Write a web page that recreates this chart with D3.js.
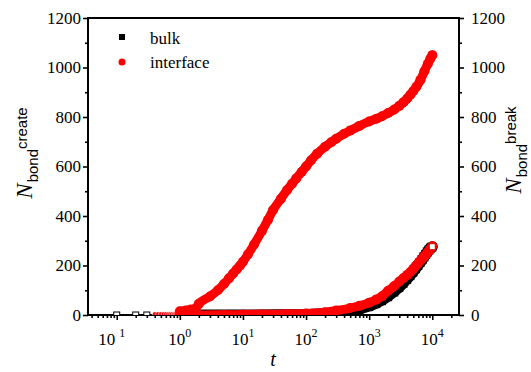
<!DOCTYPE html>
<html>
<head>
<meta charset="utf-8">
<script src="https://cdn.jsdelivr.net/npm/d3@7"></script>
<style>
  body { margin: 0; background: #fff; }
  svg { display: block; }
</style>
</head>
<body>
<div id="chart"></div>
<script>
// values
var xTickExp = [-1, 0, 1, 2, 3, 4];
var yTicks = [0, 200, 400, 600, 800, 1000, 1200];

// bulk: sparse open squares at early times, then the dense band
var bulkEarlyT = [0.1, 0.2, 0.3];
var bulkEarlyN = [0, 0, 0];
var bulkT = [1, 10, 100, 200, 300, 500, 700, 1000, 1300, 1600, 2000, 2500, 3000, 3500, 4000,
    4500, 5000, 5500, 6000, 6500, 7000, 7500, 8000, 8500, 9000, 9500, 10000];
var bulkN = [0, 0, 2, 5, 9, 17, 24, 36, 48, 60, 76, 95, 113, 130, 146,
    161, 175, 189, 202, 214, 226, 237, 247, 257, 265, 272, 276];

// interface, small points lying on zero before t = 1
var ifaceEarlyT = [0.4, 0.45, 0.5, 0.55, 0.6, 0.65, 0.7, 0.75, 0.8, 0.85, 0.9, 0.95];
var ifaceEarlyN = [0, 0, 0, 0, 0, 0, 0, 0, 0, 0, 0, 0];

// interface, bonds created (left axis)
var createT = [1, 1.25, 1.5, 1.75, 2, 3, 4, 5, 6, 7, 8, 9, 10, 12, 15, 20, 25, 30, 40, 50, 60, 70,
    85, 100, 120, 150, 200, 250, 300, 400, 500, 700, 1000, 1300, 1600, 2000, 2500, 3000, 3500,
    4000, 4500, 5000, 5600, 6500, 7500, 8500, 9300, 10000];
var createN = [15, 18, 22, 25, 45, 75, 100, 125, 148, 168, 185, 200, 215, 245, 285, 340, 385, 424, 470, 505, 530, 552,
    578, 600, 625, 652, 680, 698, 712, 732, 745, 764, 782, 793, 803, 816, 830, 845, 860,
    875, 890, 905, 922, 950, 985, 1015, 1035, 1050];

// interface, bonds broken (right axis)
var breakT = [1, 2, 5, 10, 20, 50, 100, 200, 300, 500, 700, 1000, 1300, 1600, 2000, 2500, 3000, 3500,
    4000, 4500, 5000, 5500, 6000, 6500, 7000, 7500, 8000, 8500, 9000, 9500, 10000];
var breakN = [0, 0, 1, 2, 3, 4, 6, 11, 18, 28, 37, 50, 63, 76, 98, 117, 135, 149,
    162, 174, 187, 199, 210, 220, 229, 238, 246, 254, 262, 270, 278];

var width = 531, height = 372,
    plot = { left: 88, right: 459, top: 18, bottom: 315 },
    red = '#ff0000',
    serif = "'Liberation Serif', 'DejaVu Serif', serif",
    sans = "'Liberation Sans', 'DejaVu Sans', sans-serif";

var svg = d3.select('#chart').append('svg')
    .attr('width', width)
    .attr('height', height);

var x = d3.scaleLog()
    .domain([Math.pow(10, -1.455), Math.pow(10, 4.423)])
    .range([plot.left, plot.right]);
var y = d3.scaleLinear()
    .domain([0, 1200])
    .range([plot.bottom, plot.top]);

function zip(ts, ns) {
    return ts.map(function (t, i) { return [t, ns[i]]; });
}

var line = d3.line()
    .x(function (d) { return x(d[0]); })
    .y(function (d) { return y(d[1]); });

// minor tick values for the log axis
var minorX = [];
for (var e = -2; e <= 4; e++) {
    for (var m = 2; m <= 9; m++) {
        var v = m * Math.pow(10, e);
        if (v > x.domain()[0] && v < x.domain()[1]) minorX.push(v);
    }
}
var minorY = d3.range(100, 1200, 200);

var axes = svg.append('g');

// bottom axis
axes.append('g')
    .attr('transform', 'translate(0,' + plot.bottom + ')')
    .call(d3.axisBottom(x).tickValues(minorX).tickSize(3).tickFormat(''));
axes.append('g')
    .attr('transform', 'translate(0,' + plot.bottom + ')')
    .call(d3.axisBottom(x).tickValues(xTickExp.map(function (p) { return Math.pow(10, p); }))
        .tickSize(5).tickFormat(''));

// left axis
axes.append('g')
    .attr('transform', 'translate(' + plot.left + ',0)')
    .call(d3.axisLeft(y).tickValues(minorY).tickSize(3).tickFormat(''));
axes.append('g')
    .attr('transform', 'translate(' + plot.left + ',0)')
    .call(d3.axisLeft(y).tickValues(yTicks).tickSize(5).tickFormat(''));

// right axis
axes.append('g')
    .attr('transform', 'translate(' + plot.right + ',0)')
    .call(d3.axisRight(y).tickValues(minorY).tickSize(3).tickFormat(''));
axes.append('g')
    .attr('transform', 'translate(' + plot.right + ',0)')
    .call(d3.axisRight(y).tickValues(yTicks).tickSize(5).tickFormat(''));

axes.selectAll('.domain').remove();
axes.selectAll('.tick line').attr('stroke', '#000').attr('stroke-width', 1.6);

// frame
svg.append('rect')
    .attr('x', plot.left).attr('y', plot.top)
    .attr('width', plot.right - plot.left)
    .attr('height', plot.bottom - plot.top)
    .attr('fill', 'none')
    .attr('stroke', '#000')
    .attr('stroke-width', 2);

// y tick labels
svg.append('g').selectAll('text')
    .data(yTicks).enter().append('text')
    .attr('x', plot.left - 7)
    .attr('y', function (d) { return y(d); })
    .attr('dy', '0.35em')
    .attr('text-anchor', 'end')
    .attr('font-family', serif)
    .attr('font-size', 17)
    .text(function (d) { return d; });

svg.append('g').selectAll('text')
    .data(yTicks).enter().append('text')
    .attr('x', plot.right + 12)
    .attr('y', function (d) { return y(d); })
    .attr('dy', '0.35em')
    .attr('font-family', serif)
    .attr('font-size', 17)
    .text(function (d) { return d; });

// x tick labels, 10 with a superscript exponent
var xl = svg.append('g').selectAll('text')
    .data(xTickExp).enter().append('text')
    .attr('x', function (d) { return x(Math.pow(10, d)) + (d < 0 ? -5 : 0); })
    .attr('y', 345)
    .attr('text-anchor', 'middle')
    .attr('font-family', serif)
    .attr('font-size', 17);
xl.append('tspan').text('10');
xl.append('tspan')
    .attr('dx', function (d) { return d < 0 ? 4 : 0; })
    .attr('dy', -8)
    .attr('font-size', 12)
    .text(function (d) { return Math.abs(d); });

// axis titles
svg.append('text')
    .attr('x', 273).attr('y', 366)
    .attr('text-anchor', 'middle')
    .attr('font-family', serif)
    .attr('font-size', 20)
    .attr('font-style', 'italic')
    .text('t');

function yTitle(cx, cy, sup) {
    var t = svg.append('text')
        .attr('transform', 'translate(' + cx + ',' + cy + ') rotate(-90)')
        .attr('text-anchor', 'middle');
    t.append('tspan').attr('font-family', serif)
        .attr('font-size', 23).attr('font-style', 'italic').text('N');
    t.append('tspan').attr('font-family', sans)
        .attr('dx', 1).attr('dy', 6).attr('font-size', 15).text('bond');
    t.append('tspan').attr('font-family', sans)
        .attr('dy', -11).attr('font-size', 15).text(sup);
}
yTitle(32, 153, 'create');
yTitle(521, 150, 'break');

// data layers, clipped to the frame
svg.append('clipPath').attr('id', 'clip')
    .append('rect')
    .attr('x', plot.left).attr('y', plot.top - 10)
    .attr('width', plot.right - plot.left)
    .attr('height', plot.bottom - plot.top + 10);

var marks = svg.append('g').attr('clip-path', 'url(#clip)');

// bulk band
marks.append('path')
    .datum(zip(bulkT, bulkN))
    .attr('d', line)
    .attr('fill', 'none')
    .attr('stroke', '#000')
    .attr('stroke-width', 11)
    .attr('stroke-linecap', 'round')
    .attr('stroke-linejoin', 'round');
marks.append('g').selectAll('rect')
    .data(zip(bulkT, bulkN).filter(function (d) { return d[0] >= 100; }))
    .enter().append('rect')
    .attr('x', function (d) { return x(d[0]) - 5; })
    .attr('y', function (d) { return y(d[1]) - 4; })
    .attr('width', 9).attr('height', 9)
    .attr('fill', '#000');

// interface small points before t = 1
marks.append('g').selectAll('circle')
    .data(zip(ifaceEarlyT, ifaceEarlyN))
    .enter().append('circle')
    .attr('cx', function (d) { return x(d[0]); })
    .attr('cy', function (d) { return y(d[1]) - 1; })
    .attr('r', 2.3)
    .attr('fill', red)
    .attr('stroke', '#fff')
    .attr('stroke-width', 0.6);

// interface bands
[zip(breakT, breakN), zip(createT, createN)].forEach(function (pts) {
    marks.append('path')
        .datum(pts)
        .attr('d', line.curve(d3.curveMonotoneX))
        .attr('fill', 'none')
        .attr('stroke', red)
        .attr('stroke-width', 9)
        .attr('stroke-linecap', 'round')
        .attr('stroke-linejoin', 'round');
    marks.append('g').selectAll('circle')
        .data(pts)
        .enter().append('circle')
        .attr('cx', function (d) { return x(d[0]); })
        .attr('cy', function (d) { return y(d[1]); })
        .attr('r', 5)
        .attr('fill', red);
});

// bulk open squares (early times and last point)
var open = zip(bulkEarlyT, bulkEarlyN).concat([[bulkT[bulkT.length - 1], bulkN[bulkN.length - 1]]]);
marks.append('g').selectAll('rect')
    .data(open)
    .enter().append('rect')
    .attr('x', function (d) { return x(d[0]) - 3; })
    .attr('y', function (d) { return y(d[1]) - 3; })
    .attr('width', 6).attr('height', 6)
    .attr('fill', '#fff')
    .attr('stroke', function (d, i) { return i === open.length - 1 ? '#c00' : '#000'; })
    .attr('stroke-width', 1);

// legend
var legend = svg.append('g');
legend.append('rect')
    .attr('x', 119).attr('y', 34).attr('width', 6).attr('height', 6)
    .attr('fill', '#000');
legend.append('circle')
    .attr('cx', 122).attr('cy', 62).attr('r', 3.5)
    .attr('fill', red);
legend.append('text')
    .attr('x', 150).attr('y', 44)
    .attr('font-family', serif)
    .attr('font-size', 17)
    .text('bulk');
legend.append('text')
    .attr('x', 150).attr('y', 68)
    .attr('font-family', serif)
    .attr('font-size', 17)
    .text('interface');
</script>
</body>
</html>
